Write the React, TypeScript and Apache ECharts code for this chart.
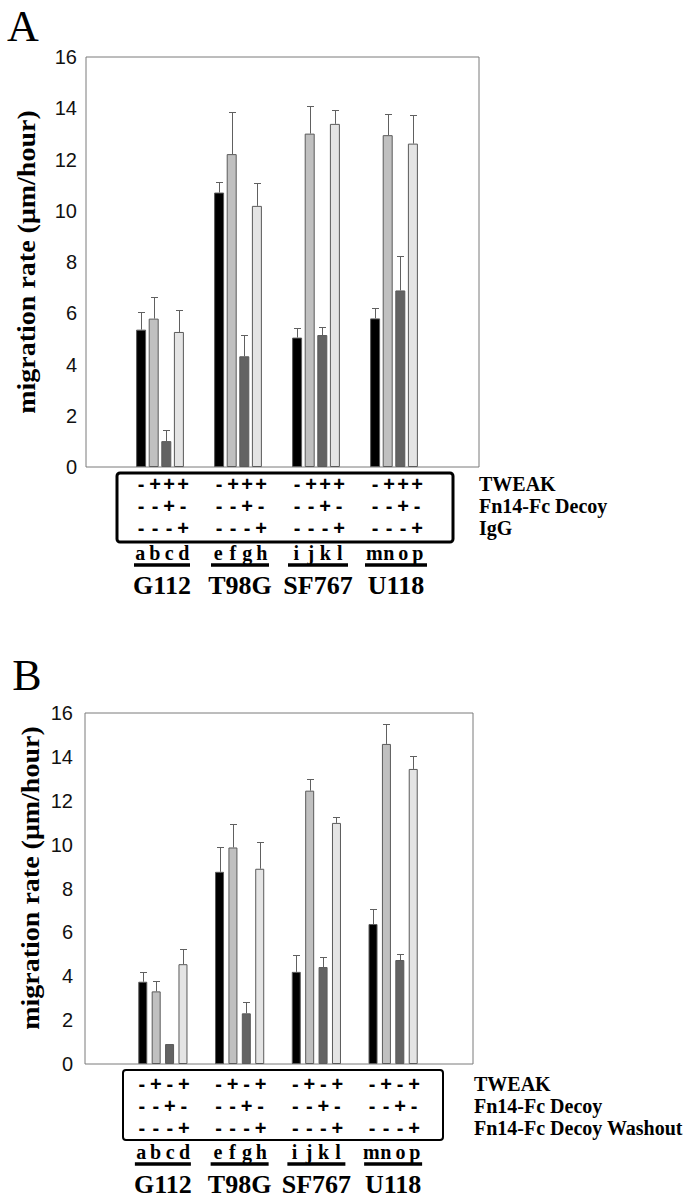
import React, { useEffect, useRef } from "react";
import * as echarts from "echarts";

// ---------- data ----------
const cellLines = ["G112", "T98G", "SF767", "U118"];
const laneLetters = [
  ["a", "b", "c", "d"],
  ["e", "f", "g", "h"],
  ["i", "j", "k", "l"],
  ["m", "n", "o", "p"],
];
const yMin = 0;
const yMax = 16;
const yStep = 2;
const yTitle = "migration rate (\u03bcm/hour)";

// Panel A: means and upper error (SD) per cell line
const aControl = [5.36, 10.71, 5.05, 5.8];
const aControlErr = [0.68, 0.41, 0.36, 0.39];
const aTweak = [5.79, 12.21, 13.01, 12.95];
const aTweakErr = [0.84, 1.66, 1.08, 0.81];
const aDecoy = [1.01, 4.32, 5.15, 6.89];
const aDecoyErr = [0.42, 0.83, 0.33, 1.36];
const aIgG = [5.27, 10.19, 13.39, 12.62];
const aIgGErr = [0.86, 0.91, 0.54, 1.1];
const aRowLabels = ["TWEAK", "Fn14-Fc Decoy", "IgG"];
const aSigns = ["-+++", "--+-", "---+"];

// Panel B
const bControl = [3.75, 8.76, 4.2, 6.38];
const bControlErr = [0.45, 1.14, 0.75, 0.7];
const bTweak = [3.31, 9.87, 12.46, 14.59];
const bTweakErr = [0.47, 1.09, 0.55, 0.91];
const bDecoy = [0.91, 2.31, 4.42, 4.74];
const bDecoyErr = [0, 0.53, 0.48, 0.26];
const bWashout = [4.55, 8.9, 10.99, 13.45];
const bWashoutErr = [0.67, 1.21, 0.27, 0.58];
const bRowLabels = ["TWEAK", "Fn14-Fc Decoy", "Fn14-Fc Decoy Washout"];
const bSigns = ["-+-+", "--+-", "---+"];

// ---------- styles ----------
const barColors = ["#000000", "#c0c0c0", "#636363", "#e4e4e4"];
const SERIF = '"Liberation Serif", "Times New Roman", serif';
const SANS = '"Liberation Sans", Arial, sans-serif';

type Panel = {
  letter: string;
  letterX: number;
  letterY: number;
  frame: { left: number; top: number; width: number; height: number };
  barLeft: number;
  barWidthArea: number;
  barW: number;
  barGapPx: number;
  labelMargin: number;
  titleX: number;
  titleY: number;
  series: number[][];
  errors: number[][];
  box: { x: number; y: number; w: number; h: number; lw: number };
  tableOffset: number;
  rowY: number[];
  rowLabelX: number;
  rowLabels: string[];
  signs: string[];
  lettersY: number;
  underlineY: number;
  underlineW: number[];
  groupY: number;
};

const panels: Panel[] = [
  {
    letter: "A",
    letterX: 23,
    letterY: 26,
    frame: { left: 86, top: 57, width: 393, height: 410 },
    barLeft: 121,
    barWidthArea: 312,
    barW: 10,
    barGapPx: 2.6,
    labelMargin: 9,
    titleX: 27,
    titleY: 262,
    series: [aControl, aTweak, aDecoy, aIgG],
    errors: [aControlErr, aTweakErr, aDecoyErr, aIgGErr],
    box: { x: 117, y: 473, w: 336, h: 69, lw: 3 },
    tableOffset: 2,
    rowY: [484, 506, 528],
    rowLabelX: 479,
    rowLabels: aRowLabels,
    signs: aSigns,
    lettersY: 553,
    underlineY: 565,
    underlineW: [56, 58, 60, 62],
    groupY: 585,
  },
  {
    letter: "B",
    letterX: 27,
    letterY: 675,
    frame: { left: 85, top: 713, width: 388, height: 351 },
    barLeft: 124.5,
    barWidthArea: 307,
    barW: 9,
    barGapPx: 4.4,
    labelMargin: 12,
    titleX: 31,
    titleY: 878,
    series: [bControl, bTweak, bDecoy, bWashout],
    errors: [bControlErr, bTweakErr, bDecoyErr, bWashoutErr],
    box: { x: 123, y: 1070, w: 320, h: 70, lw: 2 },
    tableOffset: 0,
    rowY: [1084, 1106, 1128],
    rowLabelX: 474,
    rowLabels: bRowLabels,
    signs: bSigns,
    lettersY: 1152,
    underlineY: 1164,
    underlineW: [56, 58, 58, 58],
    groupY: 1184,
  },
];

function buildOption() {
  const grid: any[] = [];
  const xAxis: any[] = [];
  const yAxis: any[] = [];
  const series: any[] = [];
  const graphic: any[] = [];

  panels.forEach((p, pi) => {
    const frameIdx = pi * 2;
    const barIdx = pi * 2 + 1;
    grid.push({
      left: p.frame.left,
      top: p.frame.top,
      width: p.frame.width,
      height: p.frame.height,
      show: true,
      borderColor: "#7a7a7a",
      borderWidth: 1,
      containLabel: false,
    });
    grid.push({
      left: p.barLeft,
      top: p.frame.top,
      width: p.barWidthArea,
      height: p.frame.height,
      containLabel: false,
    });
    xAxis.push({ gridIndex: frameIdx, type: "value", min: 0, max: 1, show: false });
    xAxis.push({ gridIndex: barIdx, type: "category", data: cellLines, show: false });
    yAxis.push({
      gridIndex: frameIdx,
      type: "value",
      min: yMin,
      max: yMax,
      interval: yStep,
      axisLine: { show: false },
      axisTick: { show: false },
      splitLine: { show: false },
      axisLabel: {
        color: "#111",
        fontSize: 20,
        fontFamily: SANS,
        margin: p.labelMargin,
      },
    });
    yAxis.push({ gridIndex: barIdx, type: "value", min: yMin, max: yMax, show: false });

    const pitch = p.barW + p.barGapPx;
    p.series.forEach((vals, si) => {
      series.push({
        type: "bar",
        xAxisIndex: barIdx,
        yAxisIndex: barIdx,
        data: vals,
        barWidth: p.barW,
        barGap: (p.barGapPx / p.barW) * 100 + "%",
        itemStyle: { color: barColors[si], borderColor: "#5a5a5a", borderWidth: 1 },
        silent: true,
      });
    });
    const errData: number[][] = [];
    p.series.forEach((vals, si) => {
      vals.forEach((v, ci) => errData.push([ci, si, v, p.errors[si][ci]]));
    });
    series.push({
      type: "custom",
      xAxisIndex: barIdx,
      yAxisIndex: barIdx,
      data: errData,
      encode: { x: 0, y: 2 },
      silent: true,
      z: 5,
      renderItem: (params: any, api: any) => {
        const cat = api.value(0);
        const s = api.value(1);
        const v = api.value(2);
        const e = api.value(3);
        if (!(e > 0)) return { type: "group", children: [] };
        const base = api.coord([cat, v]);
        const top = api.coord([cat, v + e]);
        const x = Math.round(base[0] + (s - 1.5) * pitch) + 0.5;
        const yt = Math.round(top[1]) + 0.5;
        return {
          type: "group",
          children: [
            {
              type: "line",
              shape: { x1: x, y1: base[1], x2: x, y2: yt },
              style: { stroke: "#606060", lineWidth: 1 },
            },
            {
              type: "line",
              shape: { x1: x - 3.5, y1: yt, x2: x + 3.5, y2: yt },
              style: { stroke: "#606060", lineWidth: 1 },
            },
          ],
        };
      },
    });

    // panel letter
    graphic.push({
      type: "text",
      x: p.letterX,
      y: p.letterY,
      style: {
        text: p.letter,
        fill: "#000",
        font: `44px ${SERIF}`,
        align: "center",
        verticalAlign: "middle",
      },
    });
    // y title
    graphic.push({
      type: "text",
      x: p.titleX,
      y: p.titleY,
      rotation: Math.PI / 2,
      scaleX: 1.12,
      style: {
        text: yTitle,
        fill: "#000",
        font: `bold 25px ${SERIF}`,
        align: "center",
        verticalAlign: "middle",
      },
    });
    // table box
    graphic.push({
      type: "rect",
      shape: { x: p.box.x, y: p.box.y, width: p.box.w, height: p.box.h, r: 3 },
      style: { fill: "none", stroke: "#000", lineWidth: p.box.lw },
    });
    const band = p.barWidthArea / cellLines.length;
    cellLines.forEach((name, ci) => {
      const gc = p.barLeft + band * (ci + 0.5) + p.tableOffset;
      p.signs.forEach((row, ri) => {
        row.split("").forEach((ch, k) => {
          graphic.push({
            type: "text",
            x: gc + (k - 1.5) * 14,
            y: p.rowY[ri],
            style: {
              text: ch,
              fill: "#000",
              font: `bold 20px ${SANS}`,
              align: "center",
              verticalAlign: "middle",
            },
          });
        });
      });
      laneLetters[ci].forEach((l, k) => {
        graphic.push({
          type: "text",
          x: gc + (k - 1.5) * 14.5,
          y: p.lettersY,
          style: {
            text: l,
            fill: "#000",
            font: `bold 20px ${SERIF}`,
            align: "center",
            verticalAlign: "middle",
          },
        });
      });
      graphic.push({
        type: "rect",
        shape: {
          x: gc - p.underlineW[ci] / 2,
          y: p.underlineY - 1.75,
          width: p.underlineW[ci],
          height: 3.5,
        },
        style: { fill: "#000" },
      });
      graphic.push({
        type: "text",
        x: gc,
        y: p.groupY,
        style: {
          text: name,
          fill: "#000",
          font: `bold 26px ${SERIF}`,
          align: "center",
          verticalAlign: "middle",
        },
      });
    });
    p.rowLabels.forEach((lab, ri) => {
      graphic.push({
        type: "text",
        x: p.rowLabelX,
        y: p.rowY[ri],
        style: {
          text: lab,
          fill: "#000",
          font: `bold 20px ${SERIF}`,
          align: "left",
          verticalAlign: "middle",
        },
      });
    });
  });

  return {
    animation: false,
    backgroundColor: "#ffffff",
    grid,
    xAxis,
    yAxis,
    series,
    graphic,
  };
}

export default function App() {
  const ref = useRef<HTMLDivElement>(null);
  useEffect(() => {
    if (!ref.current) return;
    const chart = echarts.init(ref.current, undefined, { renderer: "svg" });
    chart.setOption(buildOption() as any);
    return () => chart.dispose();
  }, []);
  return (
    <div
      ref={ref}
      style={{ position: "absolute", left: 0, top: 0, width: 692, height: 1199, background: "#fff" }}
    />
  );
}
